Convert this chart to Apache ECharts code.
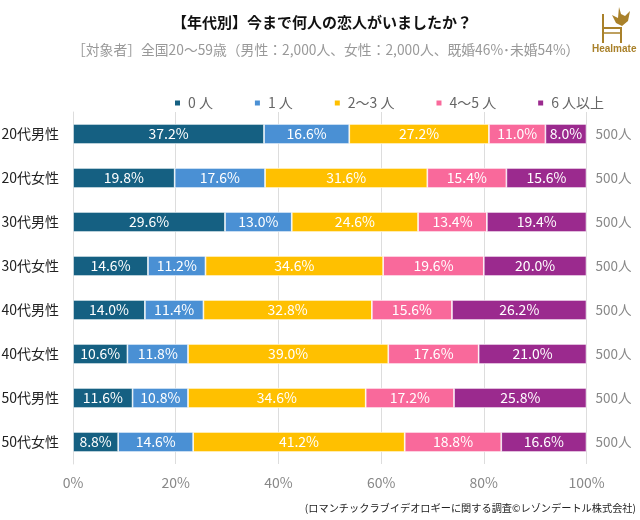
<!DOCTYPE html>
<html>
<head>
<meta charset="utf-8">
<style>html,body{margin:0;padding:0;background:#fff}#main{width:640px;height:520px}</style>
<script src="https://cdn.jsdelivr.net/npm/echarts@6/dist/echarts.min.js"></script>
</head>
<body>
<div id="main"></div>
<script>
var categories = ['20代男性','20代女性','30代男性','30代女性','40代男性','40代女性','50代男性','50代女性'];
var counts = ['500人','500人','500人','500人','500人','500人','500人','500人'];
var names = ['0 人','1 人','2～3 人','4～5 人','6 人以上'];
var colors = ['#156082','#4a90d4','#ffc000','#f9699b','#9b2a8e'];
var none = [37.2,19.8,29.6,14.6,14.0,10.6,11.6,8.8];
var one = [16.6,17.6,13.0,11.2,11.4,11.8,10.8,14.6];
var twoThree = [27.2,31.6,24.6,34.6,32.8,39.0,34.6,41.2];
var fourFive = [11.0,15.4,13.4,19.6,15.6,17.6,17.2,18.8];
var sixUp = [8.0,15.6,19.4,20.0,26.2,21.0,25.8,16.6];
var font = '"Noto Sans CJK JP", sans-serif';

var chart = echarts.init(document.getElementById('main'));
var seriesData = [none, one, twoThree, fourFive, sixUp];
var series = names.map(function(n, i) {
  return {
    name: n,
    type: 'bar',
    stack: 'total',
    barWidth: 20,
    data: seriesData[i],
    itemStyle: {color: colors[i], borderColor: '#fff', borderWidth: 0.7},
    label: {
      show: true,
      position: 'inside',
      color: '#fff',
      fontFamily: font,
      fontSize: 14,
      formatter: function(p) { return p.value.toFixed(1) + '%'; }
    }
  };
});

chart.setOption({
  animation: false,
  backgroundColor: '#fff',
  title: [
    {text: '【年代別】今まで何人の恋人がいましたか？', left: 167, top: 10,
      textStyle: {fontFamily: font, fontSize: 15, fontWeight: 'bold', color: '#111'}},
    {text: '［対象者］全国20～59歳（男性：2,000人、女性：2,000人、既婚46%･未婚54%）', left: 67, top: 38,
      textStyle: {fontFamily: font, fontSize: 13.8, fontWeight: 'normal', color: '#999'}}
  ],
  legend: {
    left: 168,
    top: 91,
    itemWidth: 7,
    itemHeight: 7,
    itemGap: 40,
    icon: 'rect',
    data: names,
    textStyle: {fontFamily: font, fontSize: 14, color: '#666', padding: [0, 0, 0, 2]}
  },
  grid: {left: 73, right: 53.5, top: 112, bottom: 56, outerBoundsMode: 'none'},
  xAxis: {
    type: 'value',
    min: 0,
    max: 100,
    interval: 20,
    axisLine: {show: false},
    axisTick: {show: false},
    axisLabel: {formatter: '{value}%', fontFamily: font, fontSize: 14, color: '#888', margin: 12},
    splitLine: {lineStyle: {color: '#ddd', width: 1}}
  },
  yAxis: [
    {
      type: 'category',
      inverse: true,
      data: categories,
      axisLine: {show: true, lineStyle: {color: '#ddd'}},
      axisTick: {show: false},
      axisLabel: {fontFamily: font, fontSize: 14, color: '#222', margin: 14}
    },
    {
      type: 'category',
      inverse: true,
      position: 'right',
      data: counts,
      axisLine: {show: false},
      axisTick: {show: false},
      axisLabel: {fontFamily: font, fontSize: 13.5, color: '#888', margin: 9}
    }
  ],
  series: series,
  graphic: [
    // ロゴ
    {type: 'polyline', shape: {points: [[603,14],[603,43]]}, style: {stroke: '#a9812a', lineWidth: 2, fill: null}},
    {type: 'polyline', shape: {points: [[603,28],[621,28],[621,43]]}, style: {stroke: '#a9812a', lineWidth: 2, fill: null}},
    {type: 'polyline', shape: {points: [[604,33],[621,33]]}, style: {stroke: '#a9812a', lineWidth: 1.5, fill: null}},
    {type: 'polygon', shape: {points: [[619,7],[621,14],[625,16],[630,11],[628,21],[622,26],[616,23],[612,15],[618,18]]}, style: {fill: '#a9812a'}},
    {type: 'text', left: 592, top: 44, style: {text: 'Healmate', fontFamily: 'Liberation Sans', fontSize: 10, fontWeight: 'bold', fill: '#a9812a'}},
    {type: 'text', right: 4, top: 503, style: {text: '(ロマンチックラブイデオロギーに関する調査©レゾンデートル株式会社)', fontFamily: font, fontSize: 10.2, fill: '#222'}}
  ]
});
</script>
</body>
</html>
